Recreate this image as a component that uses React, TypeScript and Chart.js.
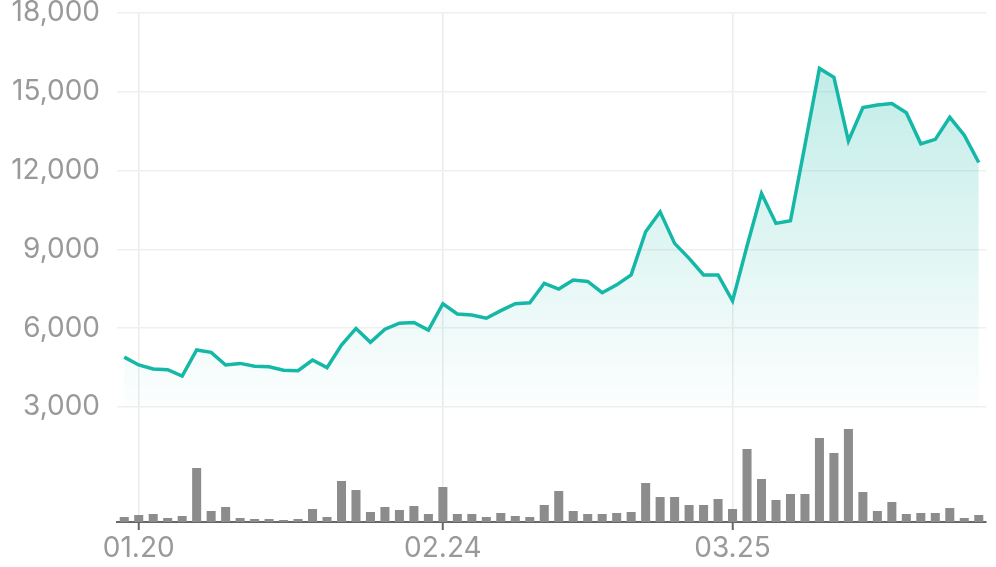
import React, { useEffect, useRef } from 'react';
import { Chart, registerables } from 'chart.js';

Chart.register(...registerables);

const dates = [
  '01.17', '01.20', '01.21', '01.22', '01.23', '01.24', '01.31',
  '02.03', '02.04', '02.05', '02.06', '02.07',
  '02.10', '02.11', '02.12', '02.13', '02.14',
  '02.17', '02.18', '02.19', '02.20', '02.21',
  '02.24', '02.25', '02.26', '02.27', '02.28',
  '03.04', '03.05', '03.06', '03.07',
  '03.10', '03.11', '03.12', '03.13', '03.14',
  '03.17', '03.18', '03.19', '03.20', '03.21',
  '03.24', '03.25', '03.26', '03.27', '03.28',
  '03.31', '04.01', '04.02', '04.03', '04.04',
  '04.07', '04.08', '04.09', '04.10', '04.11',
  '04.14', '04.15', '04.16', '04.17',
];

const prices = [
  4900, 4600, 4450, 4420, 4180, 5170, 5080, 4600, 4660, 4550,
  4535, 4400, 4380, 4790, 4500, 5360, 5990, 5460, 5960, 6190,
  6220, 5930, 6930, 6540, 6500, 6380, 6670, 6930, 6970, 7710,
  7490, 7830, 7780, 7350, 7650, 8030, 9670, 10430, 9230, 8660,
  8030, 8030, 7040, 9130, 11130, 9990, 10090, 12970, 15890, 15550,
  13130, 14400, 14500, 14550, 14200, 13020, 13190, 14030, 13350, 12310,
];

const volumes = [
  5, 7, 8, 4, 6, 54, 11, 15, 4, 3,
  3, 2, 3, 13, 5, 41, 32, 10, 15, 12,
  16, 8, 35, 8, 8, 5, 9, 6, 5, 17,
  31, 11, 8, 8, 9, 10, 39, 25, 25, 17,
  17, 23, 13, 73, 43, 22, 28, 28, 84, 69,
  93, 30, 11, 20, 8, 9, 9, 14, 4, 7,
];

const xTickLabels = ['01.20', '02.24', '03.25'];
const priceMin = 3000;
const priceMax = 18000;
const priceStep = 3000;
const volumeMax = 115;

export default function App() {
  const ref = useRef<HTMLCanvasElement>(null);

  useEffect(() => {
    const canvas = ref.current;
    if (!canvas) return;
    const tickFont = { family: 'Inter', size: 28, lineHeight: 1 };
    const chart = new Chart(canvas, {
      data: {
        labels: dates,
        datasets: [
          {
            type: 'line',
            data: prices,
            yAxisID: 'yLine',
            borderColor: '#15b7a7',
            borderWidth: 3.5,
            pointRadius: 0,
            tension: 0,
            fill: 'start',
            order: 0,
            backgroundColor: (context: any) => {
              const c = context.chart;
              const s = c.scales && c.scales.yLine;
              if (!c.chartArea || !s) return 'rgba(20,184,166,0.1)';
              const g = c.ctx.createLinearGradient(0, s.top, 0, s.bottom);
              g.addColorStop(0, 'rgba(20,184,166,0.30)');
              g.addColorStop(1, 'rgba(20,184,166,0.01)');
              return g;
            },
          },
          {
            type: 'bar',
            data: volumes,
            yAxisID: 'yBar',
            backgroundColor: '#8c8c8c',
            barPercentage: 0.78,
            categoryPercentage: 0.8,
            order: 1,
          },
        ],
      } as any,
      options: {
        animation: false,
        responsive: true,
        maintainAspectRatio: false,
        layout: { padding: { top: 0, right: 10, bottom: 0, left: 0 } },
        plugins: { legend: { display: false }, tooltip: { enabled: false } },
        scales: {
          x: {
            type: 'category',
            offset: true,
            afterBuildTicks: (axis: any) => {
              axis.ticks = xTickLabels.map((l) => ({ value: dates.indexOf(l) }));
            },
            afterFit: (axis: any) => {
              axis.height = 45;
            },
            grid: {
              offset: false,
              color: '#ececec',
              lineWidth: 1.5,
              drawTicks: true,
              tickLength: 8,
              tickColor: '#666',
              tickWidth: 2,
            },
            border: { display: true, color: '#666', width: 2 },
            ticks: {
              autoSkip: false,
              maxRotation: 0,
              color: '#999',
              font: tickFont,
              padding: 5,
            },
          },
          yBar: {
            type: 'linear',
            position: 'left',
            stack: 'main',
            stackWeight: 115,
            min: 0,
            max: volumeMax,
            grid: { display: false },
            border: { display: false },
            ticks: { display: false },
          },
          yLine: {
            type: 'linear',
            position: 'left',
            stack: 'main',
            stackWeight: 394,
            min: priceMin,
            max: priceMax,
            afterFit: (axis: any) => {
              axis.width = 117;
              axis.paddingTop = 13;
              axis.paddingBottom = 0;
            },
            grid: { color: '#efefef', lineWidth: 1.5, drawTicks: false },
            border: { display: false },
            ticks: {
              stepSize: priceStep,
              color: '#999',
              font: tickFont,
              padding: 17,
            },
          },
        },
      } as any,
    });
    return () => chart.destroy();
  }, []);

  return (
    <div style={{ position: 'fixed', left: 0, top: 0, width: 996, height: 567, background: '#fff' }}>
      <canvas ref={ref} />
    </div>
  );
}
